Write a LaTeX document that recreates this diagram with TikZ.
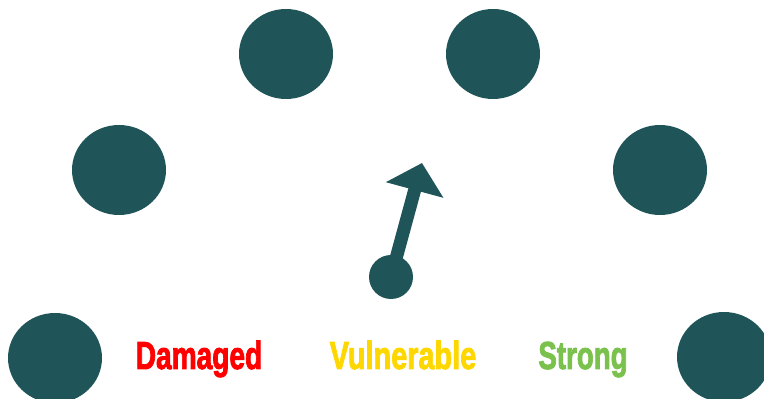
\documentclass[tikz,border=0pt]{standalone}
\usepackage{fontspec}
\setmainfont{Liberation Sans}
\newfontfamily\heavy[FakeBold=2.5]{Liberation Sans Bold}
\usetikzlibrary{arrows.meta}

\definecolor{dial}{HTML}{1F5558}
\definecolor{lowred}{HTML}{FF0000}
\definecolor{midgold}{HTML}{FFD700}
\definecolor{highgreen}{HTML}{7BC14E}

\begin{document}
\begin{tikzpicture}[x=.5pt, y=-.5pt,
    dot/.style={fill=dial},
    level/.style={font=\heavy\fontsize{19.5}{19.5}\selectfont, anchor=base, inner sep=0pt},
    needle/.style={dial, line width=6.5pt, -{Triangle[length=14pt, width=29pt]}}]
    \def\rx{23.5pt} \def\ry{22.5pt}
    \useasboundingbox (0, 0) rectangle (764, 399);

    % dial marks, left to right
    \coordinate (m1) at (55, 358);
    \coordinate (m2) at (119, 170);
    \coordinate (m3) at (286, 54);
    \coordinate (m4) at (493, 54);
    \coordinate (m5) at (660, 170);
    \coordinate (m6) at (724, 357);
    \foreach \m in {m1, m2, m3, m4, m5, m6}
        \fill[dot] (\m) ellipse [x radius=\rx, y radius=\ry];

    % needle
    \coordinate (hub) at (391, 277);
    \coordinate (tip) at (422, 163);
    \draw[needle] (hub) -- (tip);
    \fill[dot] (hub) circle (11pt);

    % scale labels
    \node[level, lowred] (damaged) at (199, 369) {\scalebox{.72}[1]{Damaged}};
    \node[level, midgold] (vulnerable) at (403, 369) {\scalebox{.74}[1]{Vulnerable}};
    \node[level, highgreen] (strong) at (583, 369) {\scalebox{.71}[1]{Strong}};
\end{tikzpicture}
\end{document}
